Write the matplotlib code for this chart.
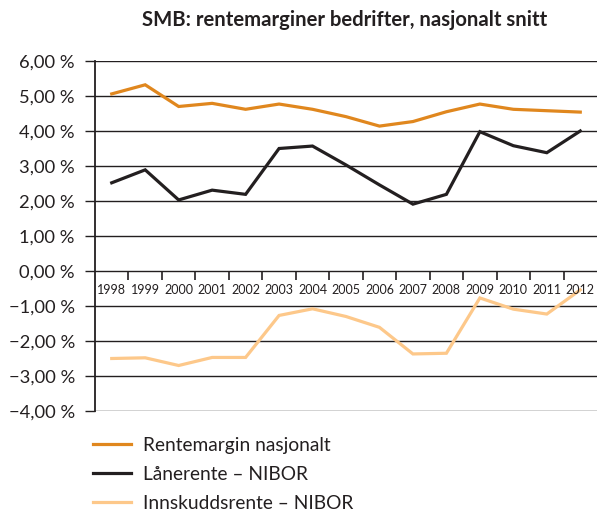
import numpy as np
import matplotlib
matplotlib.use("Agg")
import matplotlib.pyplot as plt

years = ["1998", "1999", "2000", "2001", "2002", "2003", "2004", "2005",
         "2006", "2007", "2008", "2009", "2010", "2011", "2012"]
rentemargin = [5.06, 5.32, 4.70, 4.79, 4.62, 4.77, 4.62, 4.41,
               4.14, 4.27, 4.55, 4.77, 4.62, 4.58, 4.54]
laanerente = [2.52, 2.89, 2.03, 2.31, 2.19, 3.50, 3.57, 3.03,
              2.46, 1.91, 2.19, 3.98, 3.58, 3.38, 4.00]
innskudd = [-2.50, -2.48, -2.70, -2.47, -2.47, -1.27, -1.08, -1.30,
            -1.61, -2.37, -2.35, -0.77, -1.09, -1.23, -0.54]
series_names = ["Rentemargin nasjonalt", "Lånerente – NIBOR", "Innskuddsrente – NIBOR"]
yticks = [6, 5, 4, 3, 2, 1, 0, -1, -2, -3, -4]

colors = ["#E0871E", "#231F20", "#FDC88A"]
dark = "#231F20"

plt.rcParams['font.family'] = ['Lato', 'DejaVu Sans']

fig = plt.figure(figsize=(5.97, 5.11), dpi=100)
W, H = 597, 511
ax = fig.add_axes([95 / W, 1 - 411 / H, (597 - 95) / W, 350 / H])

x = np.arange(len(years))
for vals, name, c in zip([rentemargin, laanerente, innskudd], series_names, colors):
    ax.plot(x, vals, color=c, lw=2.3, label=name, solid_joinstyle='miter')

ax.set_xlim(-0.5, len(years) - 0.5)
ax.set_ylim(-4, 6)
ax.set_yticks(yticks)
ax.set_yticklabels([f"{v:.2f} %".replace(".", ",").replace("-", "\u2212") for v in yticks],
                   fontsize=13.2, color=dark)
ax.tick_params(axis='y', length=7, width=1, color=dark, pad=7.5)
ax.set_xticks([])
ax.grid(axis='y', color=dark, lw=1)
ax.set_axisbelow(True)
for s in ["top", "right", "bottom"]:
    ax.spines[s].set_visible(False)
ax.spines["left"].set_color(dark)
ax.spines["left"].set_linewidth(1.3)

# category ticks on the zero line and year labels
ax.vlines(x[:-1] + 0.5, -0.26, 0, color=dark, lw=1.2)
for i, yr in enumerate(years):
    ax.text(i, -0.55, yr, ha='center', va='center', fontsize=9, color=dark)

fig.text(345 / W, 1 - 20 / H, "SMB: rentemarginer bedrifter, nasjonalt snitt",
         ha='center', va='center', fontsize=14.6, fontweight='bold', color=dark)

fig.legend(loc='upper left', bbox_to_anchor=(93 / W, 1 - 437 / H), frameon=False,
           fontsize=13.8, handlelength=1.98, handletextpad=0.62, labelspacing=0.62,
           borderpad=0, borderaxespad=0, labelcolor=dark)

fig.savefig("out.png", dpi=100)
